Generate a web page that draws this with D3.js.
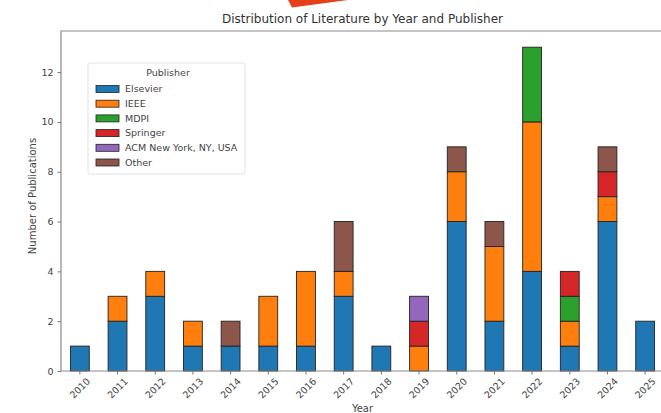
<!DOCTYPE html>
<html>
<head>
<meta charset="utf-8">
<script src="https://cdn.jsdelivr.net/npm/d3@7"></script>
<style>
  body { margin: 0; background: #fff; }
  svg { display: block; font-family: "DejaVu Sans", sans-serif; }
</style>
</head>
<body>
<svg id="chart" width="661" height="413"></svg>
<script>
// data
const years = ["2010","2011","2012","2013","2014","2015","2016","2017","2018","2019","2020","2021","2022","2023","2024","2025"];
const publishers = ["Elsevier", "IEEE", "MDPI", "Springer", "ACM New York, NY, USA", "Other"];
const elsevier = [1, 2, 3, 1, 1, 1, 1, 3, 1, 0, 6, 2, 4, 1, 6, 2];
const ieee     = [0, 1, 1, 1, 0, 2, 3, 1, 0, 1, 2, 3, 6, 1, 1, 0];
const mdpi     = [0, 0, 0, 0, 0, 0, 0, 0, 0, 0, 0, 0, 3, 1, 0, 0];
const springer = [0, 0, 0, 0, 0, 0, 0, 0, 0, 1, 0, 0, 0, 1, 1, 0];
const acm      = [0, 0, 0, 0, 0, 0, 0, 0, 0, 1, 0, 0, 0, 0, 0, 0];
const other    = [0, 0, 0, 0, 1, 0, 0, 2, 0, 0, 1, 1, 0, 0, 1, 0];
const yTicks = [0, 2, 4, 6, 8, 10, 12];

const colors = ["#1f77b4", "#ff7f0e", "#2ca02c", "#d62728", "#9467bd", "#8c564b"];
const seriesVals = [elsevier, ieee, mdpi, springer, acm, other];

const rows = years.map((yr, i) => {
  const r = {year: yr};
  publishers.forEach((p, k) => r[p] = seriesVals[k][i]);
  return r;
});

const svg = d3.select("#chart");
const margin = {left: 61, top: 31, right: 664, bottom: 371};

const xScale = d3.scaleBand()
  .domain(years)
  .range([margin.left, margin.right])
  .paddingInner(0.5)
  .paddingOuter(0.25);

const total = d3.max(rows, r => d3.sum(publishers, p => r[p]));
const yScale = d3.scaleLinear()
  .domain([0, total * 1.05])
  .range([margin.bottom, margin.top]);

// decoration fragment at the top edge of the screenshot
svg.append("path")
  .attr("d", "M288,0 L348,0 L292,7.5 Z")
  .attr("fill", "#e5401a");

// stacked bars
const stacked = d3.stack().keys(publishers)(rows);
const layers = svg.append("g")
  .selectAll("g")
  .data(stacked)
  .join("g")
  .attr("fill", (d, i) => colors[i]);

layers.selectAll("rect")
  .data(d => d.filter(s => s[1] - s[0] > 0))
  .join("rect")
  .attr("x", d => xScale(d.data.year))
  .attr("width", xScale.bandwidth())
  .attr("y", d => yScale(d[1]))
  .attr("height", d => yScale(d[0]) - yScale(d[1]))
  .attr("stroke", "#222")
  .attr("stroke-width", 0.9);

// axes frame (right side cut off in the screenshot)
svg.append("path")
  .attr("d", `M${margin.right},${margin.top}H${margin.left}V${margin.bottom}H${margin.right}`)
  .attr("fill", "none")
  .attr("stroke", "#8a8a8a")
  .attr("stroke-width", 1.2);

// y axis
const yAxis = svg.append("g")
  .attr("transform", `translate(${margin.left},0)`)
  .call(d3.axisLeft(yScale).tickValues(yTicks).tickSize(3.5).tickPadding(4));
yAxis.select(".domain").remove();
yAxis.selectAll("line").attr("stroke", "#777");
yAxis.selectAll("text")
  .attr("font-size", 9.5)
  .attr("font-family", "DejaVu Sans")
  .attr("fill", "#444");

// x axis
const xAxis = svg.append("g")
  .attr("transform", `translate(0,${margin.bottom})`)
  .call(d3.axisBottom(xScale).tickSize(3.5).tickFormat(""));
xAxis.select(".domain").remove();
xAxis.selectAll("line").attr("stroke", "#777");

svg.append("g")
  .selectAll("text")
  .data(years)
  .join("text")
  .attr("transform", d => `translate(${xScale(d) + xScale.bandwidth() / 2},388) rotate(-45)`)
  .attr("text-anchor", "middle")
  .attr("dominant-baseline", "central")
  .attr("font-size", 9.5)
  .attr("fill", "#444")
  .text(d => d);

// titles
svg.append("text")
  .attr("x", (margin.left + margin.right) / 2)
  .attr("y", 23)
  .attr("text-anchor", "middle")
  .attr("font-size", 12)
  .attr("fill", "#333")
  .text("Distribution of Literature by Year and Publisher");

svg.append("text")
  .attr("transform", "translate(36,196) rotate(-90)")
  .attr("text-anchor", "middle")
  .attr("font-size", 10)
  .attr("fill", "#444")
  .text("Number of Publications");

svg.append("text")
  .attr("x", (margin.left + margin.right) / 2)
  .attr("y", 412)
  .attr("text-anchor", "middle")
  .attr("font-size", 10)
  .attr("fill", "#444")
  .text("Year");

// legend
const legend = svg.append("g").attr("transform", "translate(88,63)");
legend.append("rect")
  .attr("width", 157)
  .attr("height", 111)
  .attr("rx", 2)
  .attr("fill", "#fff")
  .attr("fill-opacity", 0.8)
  .attr("stroke", "#e2e2e2");

legend.append("text")
  .attr("x", 80)
  .attr("y", 13)
  .attr("text-anchor", "middle")
  .attr("font-size", 9.5)
  .attr("fill", "#444")
  .text("Publisher");

const items = legend.selectAll(".item")
  .data(publishers)
  .join("g")
  .attr("class", "item")
  .attr("transform", (d, i) => `translate(8,${26 + i * 14.7})`);

items.append("rect")
  .attr("y", -3.5)
  .attr("width", 23)
  .attr("height", 7)
  .attr("fill", (d, i) => colors[i])
  .attr("stroke", "#222")
  .attr("stroke-width", 0.8);

items.append("text")
  .attr("x", 29)
  .attr("dy", "0.35em")
  .attr("font-size", 9.5)
  .attr("fill", "#444")
  .text(d => d);
</script>
</body>
</html>
